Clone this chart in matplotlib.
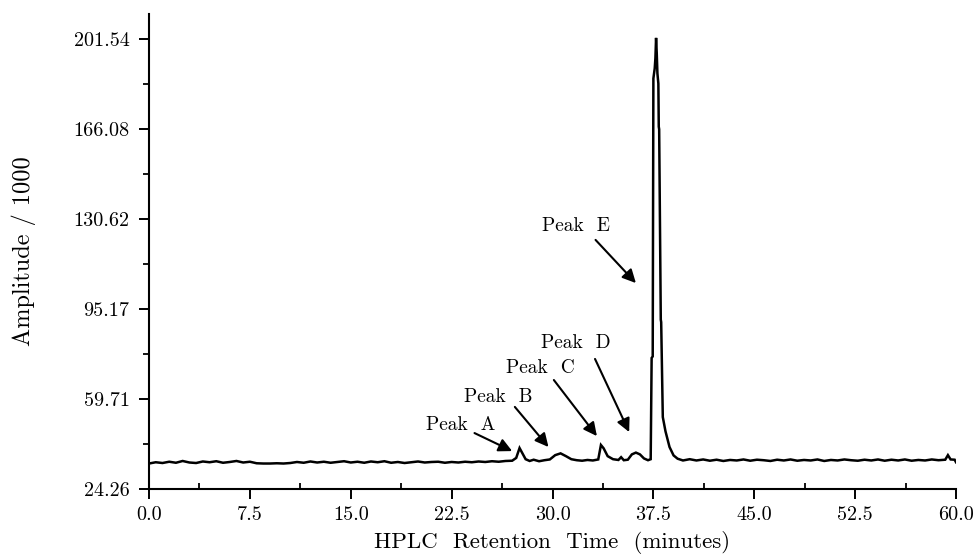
import matplotlib
matplotlib.use("Agg")
import matplotlib.pyplot as plt
import numpy as np

plt.rcParams['font.family'] = ['cmr10', 'DejaVu Serif']
plt.rcParams['mathtext.fontset'] = 'cm'
plt.rcParams['axes.unicode_minus'] = False

# chromatogram trace (minutes, amplitude / 1000)
time_min = [
    0.0, 0.5, 1.0, 1.5, 2.0, 2.5, 3.0, 3.5, 4.0, 4.5, 5.0, 5.5, 6.0, 6.5, 7.0, 7.5,
    8.0, 8.5, 9.0, 9.5, 10.0, 10.5, 11.0, 11.5, 12.0, 12.5, 13.0, 13.5, 14.0, 14.5,
    15.0, 15.5, 16.0, 16.5, 17.0, 17.5, 18.0, 18.5, 19.0, 19.5, 20.0, 20.5, 21.0,
    21.5, 22.0, 22.5, 23.0, 23.5, 24.0, 24.5, 25.0, 25.5, 26.0, 26.5, 27.0, 27.3,
    27.55, 27.8, 28.0, 28.3, 28.6, 29.0, 29.4, 29.8, 30.2, 30.6, 31.0, 31.4, 31.8,
    32.2, 32.6, 33.0, 33.4, 33.6, 33.8, 34.1, 34.5, 34.9, 35.1, 35.3, 35.6, 35.9,
    36.2, 36.5, 36.8, 37.1, 37.3, 37.37, 37.45, 37.5, 37.55, 37.6, 37.65, 37.7,
    37.75, 37.8, 37.87, 37.9, 37.93, 38.05, 38.08, 38.2, 38.4, 38.7, 39.0, 39.3,
    39.7, 40.2, 40.7, 41.2, 41.7, 42.2, 42.7, 43.2, 43.7, 44.2, 44.7, 45.2, 45.7,
    46.2, 46.7, 47.2, 47.7, 48.2, 48.7, 49.2, 49.7, 50.2, 50.7, 51.2, 51.7, 52.2,
    52.7, 53.2, 53.7, 54.2, 54.7, 55.2, 55.7, 56.2, 56.7, 57.2, 57.7, 58.2, 58.7,
    59.2, 59.4, 59.6, 59.9, 60.0,
]
amplitude = [
    34.3, 34.8, 34.5, 35.0, 34.6, 35.3, 34.7, 34.5, 35.1, 34.8, 35.2, 34.6, 34.9, 35.3, 34.7, 35.0,
    34.4, 34.3, 34.3, 34.4, 34.3, 34.5, 34.9, 34.6, 35.1, 34.7, 35.0, 34.6, 34.9, 35.2,
    34.7, 35.0, 34.6, 35.1, 34.8, 35.2, 34.6, 34.9, 34.5, 34.8, 35.1, 34.7, 34.9,
    35.0, 34.6, 34.9, 34.7, 35.0, 34.8, 35.1, 34.9, 35.2, 35.0, 35.3, 35.4, 36.5,
    40.4, 38.0, 36.0, 35.3, 35.8, 35.2, 35.6, 35.9, 37.6, 38.3, 37.2, 36.0, 35.6,
    35.4, 35.7, 35.5, 35.9, 41.6, 40.3, 37.2, 36.0, 35.7, 36.8, 35.6, 35.8, 37.9,
    38.6, 37.9, 36.3, 35.6, 36.0, 75.9, 76.5, 186.0, 188.0, 190.0, 194.0, 202.0,
    196.0, 188.0, 184.0, 167.0, 166.0, 91.0, 90.0, 52.6, 47.0, 40.8, 37.5, 36.2,
    35.5, 36.0, 35.5, 35.9, 35.4, 35.8, 35.3, 35.7, 35.5, 35.9, 35.4, 35.8, 35.6,
    35.3, 35.8, 35.5, 35.9, 35.4, 35.7, 35.5, 35.9, 35.3, 35.7, 35.5, 35.9, 35.6,
    35.4, 35.8, 35.5, 35.9, 35.4, 35.8, 35.5, 35.9, 35.4, 35.7, 35.5, 35.9, 35.6,
    35.8, 37.6, 35.9, 35.8, 34.8,
]

x_ticks = [0.0, 7.5, 15.0, 22.5, 30.0, 37.5, 45.0, 52.5, 60.0]
y_ticks = [24.26, 59.71, 95.17, 130.62, 166.08, 201.54]
y_tick_labels = ['24.26', '59.71', '95.17', '130.62', '166.08', '201.54']

# peak labels: text position, arrow tail, arrow head
peak_names = ['Peak  A', 'Peak  B', 'Peak  C', 'Peak  D', 'Peak  E']
text_xy = [(23.2, 49.5), (26.0, 60.5), (29.1, 71.9), (31.75, 81.8), (31.75, 127.9)]
tail_xy = [(24.2, 46.3), (27.2, 56.6), (30.1, 67.2), (33.16, 75.5), (33.2, 122.4)]
head_xy = [(27.0, 39.2), (29.7, 40.8), (33.3, 45.1), (35.7, 46.7), (36.2, 105.4)]

fig = plt.figure(figsize=(9.76, 5.56), dpi=100)
ax = fig.add_axes([0.1527, 0.1205, 0.8268, 0.8543])

ax.plot(time_min, amplitude, color='black', lw=1.8, solid_joinstyle='miter')

for name, txy, sxy, hxy in zip(peak_names, text_xy, tail_xy, head_xy):
    ax.text(txy[0], txy[1], name, ha='center', va='center', fontsize=14)
    ax.annotate('', xy=hxy, xytext=sxy,
                arrowprops=dict(arrowstyle='-|>', color='black', lw=1.5,
                                mutation_scale=20, shrinkA=0, shrinkB=0))

ax.set_xlim(0, 60)
ax.set_ylim(24.26, 211.4)
ax.set_xticks(x_ticks)
ax.set_xticklabels(['%.1f' % v for v in x_ticks])
ax.set_xticks(np.array(x_ticks[:-1]) + 3.75, minor=True)
ax.set_yticks(y_ticks)
ax.set_yticklabels(y_tick_labels)
ax.set_yticks((np.array(y_ticks[:-1]) + np.array(y_ticks[1:])) / 2, minor=True)

for side in ['top', 'right']:
    ax.spines[side].set_visible(False)
for side in ['left', 'bottom']:
    ax.spines[side].set_linewidth(1.5)

ax.tick_params(axis='both', which='major', labelsize=14.5, width=1.4, length=7, direction='out')
ax.tick_params(axis='y', which='major', pad=7)
ax.tick_params(axis='x', which='major', pad=5)
ax.tick_params(axis='y', which='minor', width=1.3, length=4, direction='out')
ax.tick_params(axis='x', which='minor', width=1.3, length=4, direction='in')

ax.set_xlabel('HPLC  Retention  Time  (minutes)', fontsize=16.5, labelpad=5)
ax.set_ylabel('Amplitude / 1000', fontsize=17.5, labelpad=27)

fig.savefig('out.png', dpi=100)
